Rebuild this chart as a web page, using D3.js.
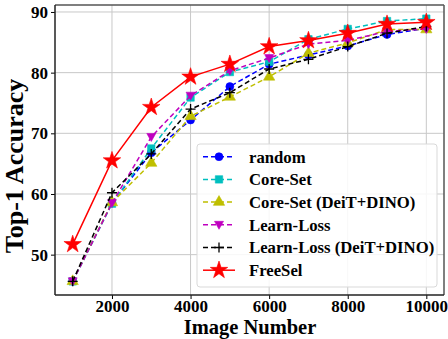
<!DOCTYPE html>
<html>
<head>
<meta charset="utf-8">
<style>
  body { margin: 0; background: #fff; }
  text { font-family: "Liberation Serif", "Times New Roman", serif; font-weight: bold; }
</style>
</head>
<body>
<svg width="448" height="339"></svg>
<script src="https://d3js.org/d3.v7.min.js"></script>
<script>

// image counts on the x axis
var imageNumbers = [1000, 2000, 3000, 4000, 5000, 6000, 7000, 8000, 9000, 10000];

// top-1 accuracy per method
var randomAcc        = [45.6, 58.5, 66.8, 72.2, 77.7, 81.4, 82.9, 84.4, 86.3, 87.3];
var coreSetAcc       = [45.6, 58.4, 67.5, 75.9, 80.1, 81.8, 85.5, 87.2, 88.5, 88.9];
var coreSetDinoAcc   = [45.6, 58.6, 65.1, 72.8, 76.0, 79.3, 83.2, 84.9, 87.1, 87.1];
var learnLossAcc     = [45.6, 58.5, 69.4, 76.2, 80.3, 82.4, 84.7, 85.3, 86.8, 87.2];
var learnLossDinoAcc = [45.6, 60.2, 66.6, 74.0, 76.7, 80.6, 82.2, 84.3, 86.5, 87.6];
var freeSelAcc       = [51.7, 65.5, 74.3, 79.3, 81.4, 84.3, 85.3, 86.5, 88.0, 88.3];

var xTicks = [2000, 4000, 6000, 8000, 10000];
var yTicks = [50, 60, 70, 80, 90];

var series = [
  {name: "random", values: randomAcc, color: "#0000ff", marker: "circle", dash: "5,3"},
  {name: "Core-Set", values: coreSetAcc, color: "#00bfbf", marker: "square", dash: "5,3"},
  {name: "Core-Set (DeiT+DINO)", values: coreSetDinoAcc, color: "#bfbf00", marker: "triangle", dash: "5,3"},
  {name: "Learn-Loss", values: learnLossAcc, color: "#bf00bf", marker: "tridown", dash: "5,3"},
  {name: "Learn-Loss (DeiT+DINO)", values: learnLossDinoAcc, color: "#000000", marker: "plus", dash: "5,3"},
  {name: "FreeSel", values: freeSelAcc, color: "#ff0000", marker: "star", dash: null}
];

var svg = d3.select("svg");
var pLeft = 55, pRight = 444, pTop = 5, pBottom = 295;

var x = d3.scaleLinear().domain([550, 10450]).range([pLeft, pRight]);
var y = d3.scaleLinear().domain([43.35, 91.15]).range([pBottom, pTop]);

// grid
var grid = svg.append("g");
grid.selectAll(".gx").data(xTicks).enter().append("line")
    .attr("x1", function(d) { return x(d); }).attr("x2", function(d) { return x(d); })
    .attr("y1", pTop).attr("y2", pBottom)
    .attr("stroke", "#c8c8c8").attr("stroke-width", 1);
grid.selectAll(".gy").data(yTicks).enter().append("line")
    .attr("y1", function(d) { return y(d); }).attr("y2", function(d) { return y(d); })
    .attr("x1", pLeft).attr("x2", pRight)
    .attr("stroke", "#c8c8c8").attr("stroke-width", 1);

// axes
var xAxis = svg.append("g")
    .attr("transform", "translate(0," + pBottom + ")")
    .call(d3.axisBottom(x).tickValues(xTicks).tickSize(4).tickPadding(1).tickFormat(d3.format("d")));
var yAxis = svg.append("g")
    .attr("transform", "translate(" + pLeft + ",0)")
    .call(d3.axisLeft(y).tickValues(yTicks).tickSize(4).tickPadding(3).tickFormat(d3.format("d")));
[xAxis, yAxis].forEach(function(a) {
  a.select(".domain").remove();
  a.selectAll("text").attr("font-size", 17).attr("fill", "#000")
    .style("font-family", '"Liberation Serif", serif').style("font-weight", "bold");
  a.selectAll("line").attr("stroke", "#000").attr("stroke-width", 1);
});

// spines
svg.append("line").attr("x1", pLeft).attr("x2", pRight).attr("y1", pTop).attr("y2", pTop)
    .attr("stroke", "#555").attr("stroke-width", 1.5);
svg.append("line").attr("x1", pRight).attr("x2", pRight).attr("y1", pTop).attr("y2", pBottom)
    .attr("stroke", "#555").attr("stroke-width", 1.5);
svg.append("line").attr("x1", pLeft).attr("x2", pLeft).attr("y1", pTop).attr("y2", pBottom)
    .attr("stroke", "#222").attr("stroke-width", 1.5);
svg.append("line").attr("x1", pLeft).attr("x2", pRight).attr("y1", pBottom).attr("y2", pBottom)
    .attr("stroke", "#222").attr("stroke-width", 1.5);

function markerPath(type) {
  if (type === "circle") return d3.symbol().type(d3.symbolCircle).size(50)();
  if (type === "square") return d3.symbol().type(d3.symbolSquare).size(55)();
  if (type === "triangle") return d3.symbol().type(d3.symbolTriangle).size(55)();
  if (type === "tridown") return "M-4.5,-3.5L4.5,-3.5L0,4.5Z";
  if (type === "plus") return "M-5,0L5,0M0,-5L0,5";
  if (type === "star") return d3.symbol().type(d3.symbolStar).size(95)();
}

function drawMarker(g, s, cx, cy) {
  var p = g.append("path").attr("d", markerPath(s.marker))
      .attr("transform", "translate(" + cx + "," + cy + ")");
  if (s.marker === "plus") {
    p.attr("fill", "none").attr("stroke", s.color).attr("stroke-width", 1.3);
  } else {
    p.attr("fill", s.color).attr("stroke", s.color).attr("stroke-width", 0.6);
  }
}

var line = d3.line()
    .x(function(d, i) { return x(imageNumbers[i]); })
    .y(function(d) { return y(d); });

var plot = svg.append("g");
series.forEach(function(s) {
  var g = plot.append("g");
  g.append("path").datum(s.values)
      .attr("d", line)
      .attr("fill", "none")
      .attr("stroke", s.color)
      .attr("stroke-width", 1.5)
      .attr("stroke-dasharray", s.dash);
  s.values.forEach(function(v, i) { drawMarker(g, s, x(imageNumbers[i]), y(v)); });
});

// legend
var lg = svg.append("g");
lg.append("rect").attr("x", 197).attr("y", 144).attr("width", 240).attr("height", 143)
    .attr("rx", 3).attr("fill", "#fff").attr("fill-opacity", 0.85)
    .attr("stroke", "#d9d9d9").attr("stroke-width", 1);
series.forEach(function(s, i) {
  var ly = 156.7 + i * 22.7;
  lg.append("line").attr("x1", 203).attr("x2", 235).attr("y1", ly).attr("y2", ly)
      .attr("stroke", s.color).attr("stroke-width", 1.5)
      .attr("stroke-dasharray", s.dash);
  drawMarker(lg, s, 219, ly);
  lg.append("text").attr("x", 249).attr("y", ly).attr("dy", "0.35em")
      .attr("font-size", 16.7).attr("fill", "#000").text(s.name);
});

// axis labels
svg.append("text").attr("x", 250).attr("y", 334)
    .attr("text-anchor", "middle").attr("font-size", 20.5).text("Image Number");
svg.append("text").attr("transform", "translate(23,166) rotate(-90)")
    .attr("text-anchor", "middle").attr("font-size", 26).text("Top-1 Accuracy");

</script>
</body>
</html>
